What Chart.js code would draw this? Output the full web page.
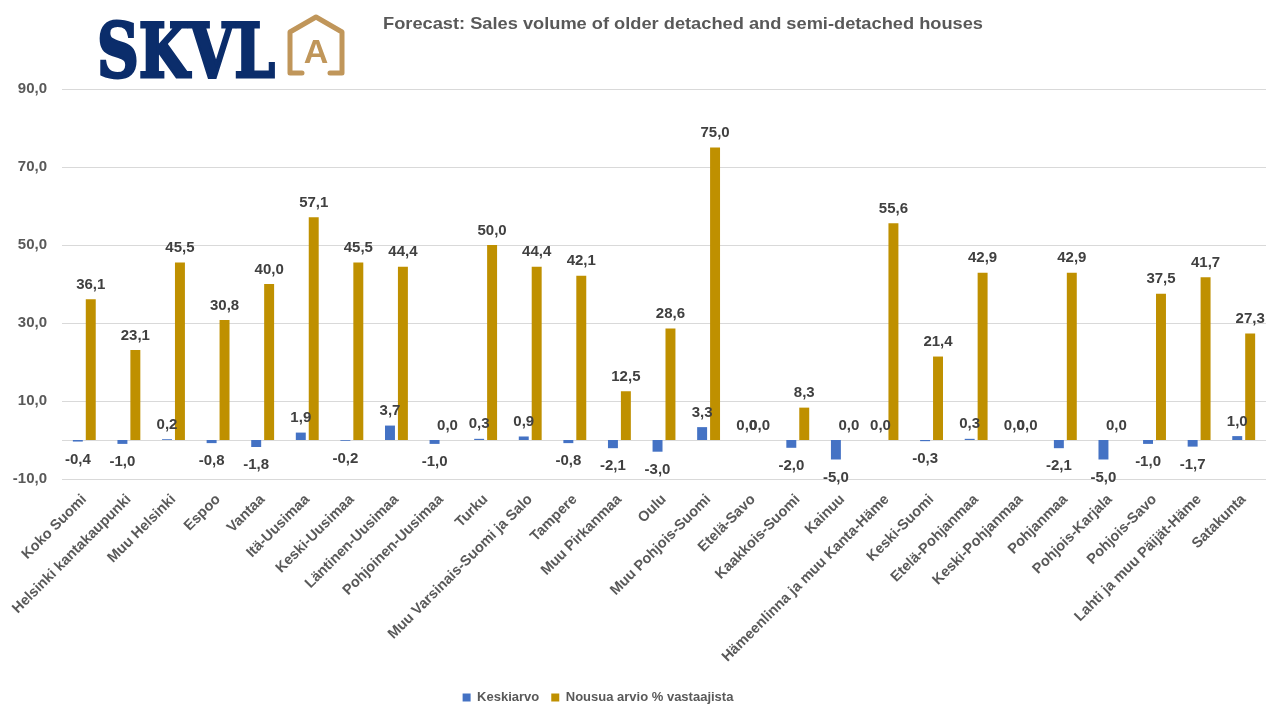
<!DOCTYPE html>
<html>
<head>
<meta charset="utf-8">
<script src="https://cdn.jsdelivr.net/npm/chart.js@4.4.1/dist/chart.umd.min.js"></script>
<style>
  body { margin: 0; background: #fff; }
  #wrap { width: 1280px; height: 720px; position: relative; }
</style>
</head>
<body>
<div id="wrap"><canvas id="myChart"></canvas></div>
<script>
// regions
const regions = ['Koko Suomi', 'Helsinki kantakaupunki', 'Muu Helsinki', 'Espoo', 'Vantaa', 'Itä-Uusimaa',
  'Keski-Uusimaa', 'Läntinen-Uusimaa', 'Pohjoinen-Uusimaa', 'Turku', 'Muu Varsinais-Suomi ja Salo',
  'Tampere', 'Muu Pirkanmaa', 'Oulu', 'Muu Pohjois-Suomi', 'Etelä-Savo', 'Kaakkois-Suomi', 'Kainuu',
  'Hämeenlinna ja muu Kanta-Häme', 'Keski-Suomi', 'Etelä-Pohjanmaa', 'Keski-Pohjanmaa', 'Pohjanmaa',
  'Pohjois-Karjala', 'Pohjois-Savo', 'Lahti ja muu Päijät-Häme', 'Satakunta'];

// series
const keskiarvo = [-0.4, -1.0, 0.2, -0.8, -1.8, 1.9, -0.2, 3.7, -1.0, 0.3, 0.9, -0.8, -2.1, -3.0,
  3.3, 0.0, -2.0, -5.0, 0.0, -0.3, 0.3, 0.0, -2.1, -5.0, -1.0, -1.7, 1.0];
const nousua = [36.1, 23.1, 45.5, 30.8, 40.0, 57.1, 45.5, 44.4, 0.0, 50.0, 44.4, 42.1, 12.5, 28.6,
  75.0, 0.0, 8.3, 0.0, 55.6, 21.4, 42.9, 0.0, 42.9, 0.0, 37.5, 41.7, 27.3];

// y axis
const yMin = -10;
const yMax = 90;
const yStep = 20;

const titleText = 'Forecast: Sales volume of older detached and semi-detached houses';
const FONT = '"Liberation Sans", Arial, sans-serif';

function fi(v) {
  return v.toFixed(1).replace('.', ',');
}

// thin line at zero, under the bars
const zeroLine = {
  id: 'zeroLine',
  beforeDatasetsDraw(chart) {
    const { ctx, chartArea } = chart;
    const y = Math.round(chart.scales.y.getPixelForValue(0)) + 0.5;
    ctx.save();
    ctx.strokeStyle = '#d9d9d9';
    ctx.lineWidth = 1;
    ctx.beginPath();
    ctx.moveTo(chartArea.left, y);
    ctx.lineTo(chartArea.right, y);
    ctx.stroke();
    ctx.restore();
  }
};

// value labels on bars
const barLabels = {
  id: 'barLabels',
  afterDatasetsDraw(chart) {
    const ctx = chart.ctx;
    ctx.save();
    ctx.font = 'bold 15px ' + FONT;
    ctx.fillStyle = '#404040';
    ctx.textAlign = 'center';
    ctx.textBaseline = 'middle';
    chart.data.datasets.forEach((ds, i) => {
      chart.getDatasetMeta(i).data.forEach((bar, j) => {
        const v = ds.data[j];
        const y = v < 0 ? bar.y + 18 : bar.y - 14.5;
        ctx.fillText(fi(v), bar.x, y);
      });
    });
    ctx.restore();
  }
};

// legend sits a bit left of centre in the original
const legendShift = {
  id: 'legendShift',
  afterLayout(chart) {
    chart.legend.left -= 35;
    chart.legend.right -= 35;
  }
};

// logo + title
const header = {
  id: 'header',
  afterDraw(chart) {
    const ctx = chart.ctx;
    ctx.save();
    // SKVL
    ctx.fillStyle = '#0b2d6b';
    ctx.font = 'bold 74px "DejaVu Serif", serif';
    ctx.textAlign = 'left';
    ctx.textBaseline = 'alphabetic';
    ctx.lineWidth = 3;
    ctx.strokeStyle = '#0b2d6b';
    ctx.fillText('SKVL', 97, 77, 178);
    ctx.strokeText('SKVL', 97, 77, 178);
    // house
    ctx.strokeStyle = '#c0965a';
    ctx.lineWidth = 5;
    ctx.lineJoin = 'round';
    ctx.lineCap = 'round';
    ctx.beginPath();
    ctx.moveTo(302, 73);
    ctx.lineTo(290, 73);
    ctx.lineTo(290, 32);
    ctx.lineTo(316, 17);
    ctx.lineTo(342, 32);
    ctx.lineTo(342, 73);
    ctx.lineTo(330, 73);
    ctx.stroke();
    ctx.fillStyle = '#c0965a';
    ctx.font = 'bold 34px ' + FONT;
    ctx.textAlign = 'center';
    ctx.fillText('A', 316, 63);
    // title, stretched to the original's width
    ctx.fillStyle = '#595959';
    ctx.font = 'bold 17px ' + FONT;
    ctx.textAlign = 'left';
    ctx.textBaseline = 'middle';
    const w = ctx.measureText(titleText).width;
    ctx.translate(383, 24);
    ctx.scale(600 / w, 1);
    ctx.fillText(titleText, 0, 0);
    ctx.restore();
  }
};

const ctx = document.getElementById('myChart').getContext('2d');
const chart = new Chart(ctx, {
  type: 'bar',
  data: {
    labels: regions,
    datasets: [{
      label: 'Keskiarvo',
      data: keskiarvo,
      backgroundColor: '#4472c4',
      categoryPercentage: 0.58,
      barPercentage: 0.77
    }, {
      label: 'Nousua arvio % vastaajista',
      data: nousua,
      backgroundColor: '#bf9000',
      categoryPercentage: 0.58,
      barPercentage: 0.77
    }]
  },
  options: {
    responsive: true,
    maintainAspectRatio: false,
    animation: false,
    layout: { padding: { top: 89, left: 0, right: 14, bottom: 6 } },
    plugins: {
      legend: {
        position: 'bottom',
        labels: {
          boxWidth: 8,
          boxHeight: 8,
          padding: 12,
          color: '#595959',
          font: { family: FONT, size: 13, weight: 'bold' }
        }
      },
      tooltip: { enabled: false }
    },
    scales: {
      x: {
        grid: { display: false },
        border: { display: false },
        ticks: {
          autoSkip: false,
          maxRotation: 45,
          minRotation: 45,
          padding: 4,
          color: '#595959',
          font: { family: FONT, size: 14.5, weight: 'bold' }
        },
        afterFit(s) { s.height = 200; }
      },
      y: {
        min: yMin,
        max: yMax,
        grid: { color: '#d9d9d9', drawTicks: false },
        border: { display: false },
        ticks: {
          stepSize: yStep,
          padding: 15,
          color: '#595959',
          font: { family: FONT, size: 15, weight: 'bold' },
          callback: (v) => fi(v)
        },
        afterFit(s) { s.width = 62; }
      }
    }
  },
  plugins: [zeroLine, barLabels, legendShift, header]
});
</script>
</body>
</html>
